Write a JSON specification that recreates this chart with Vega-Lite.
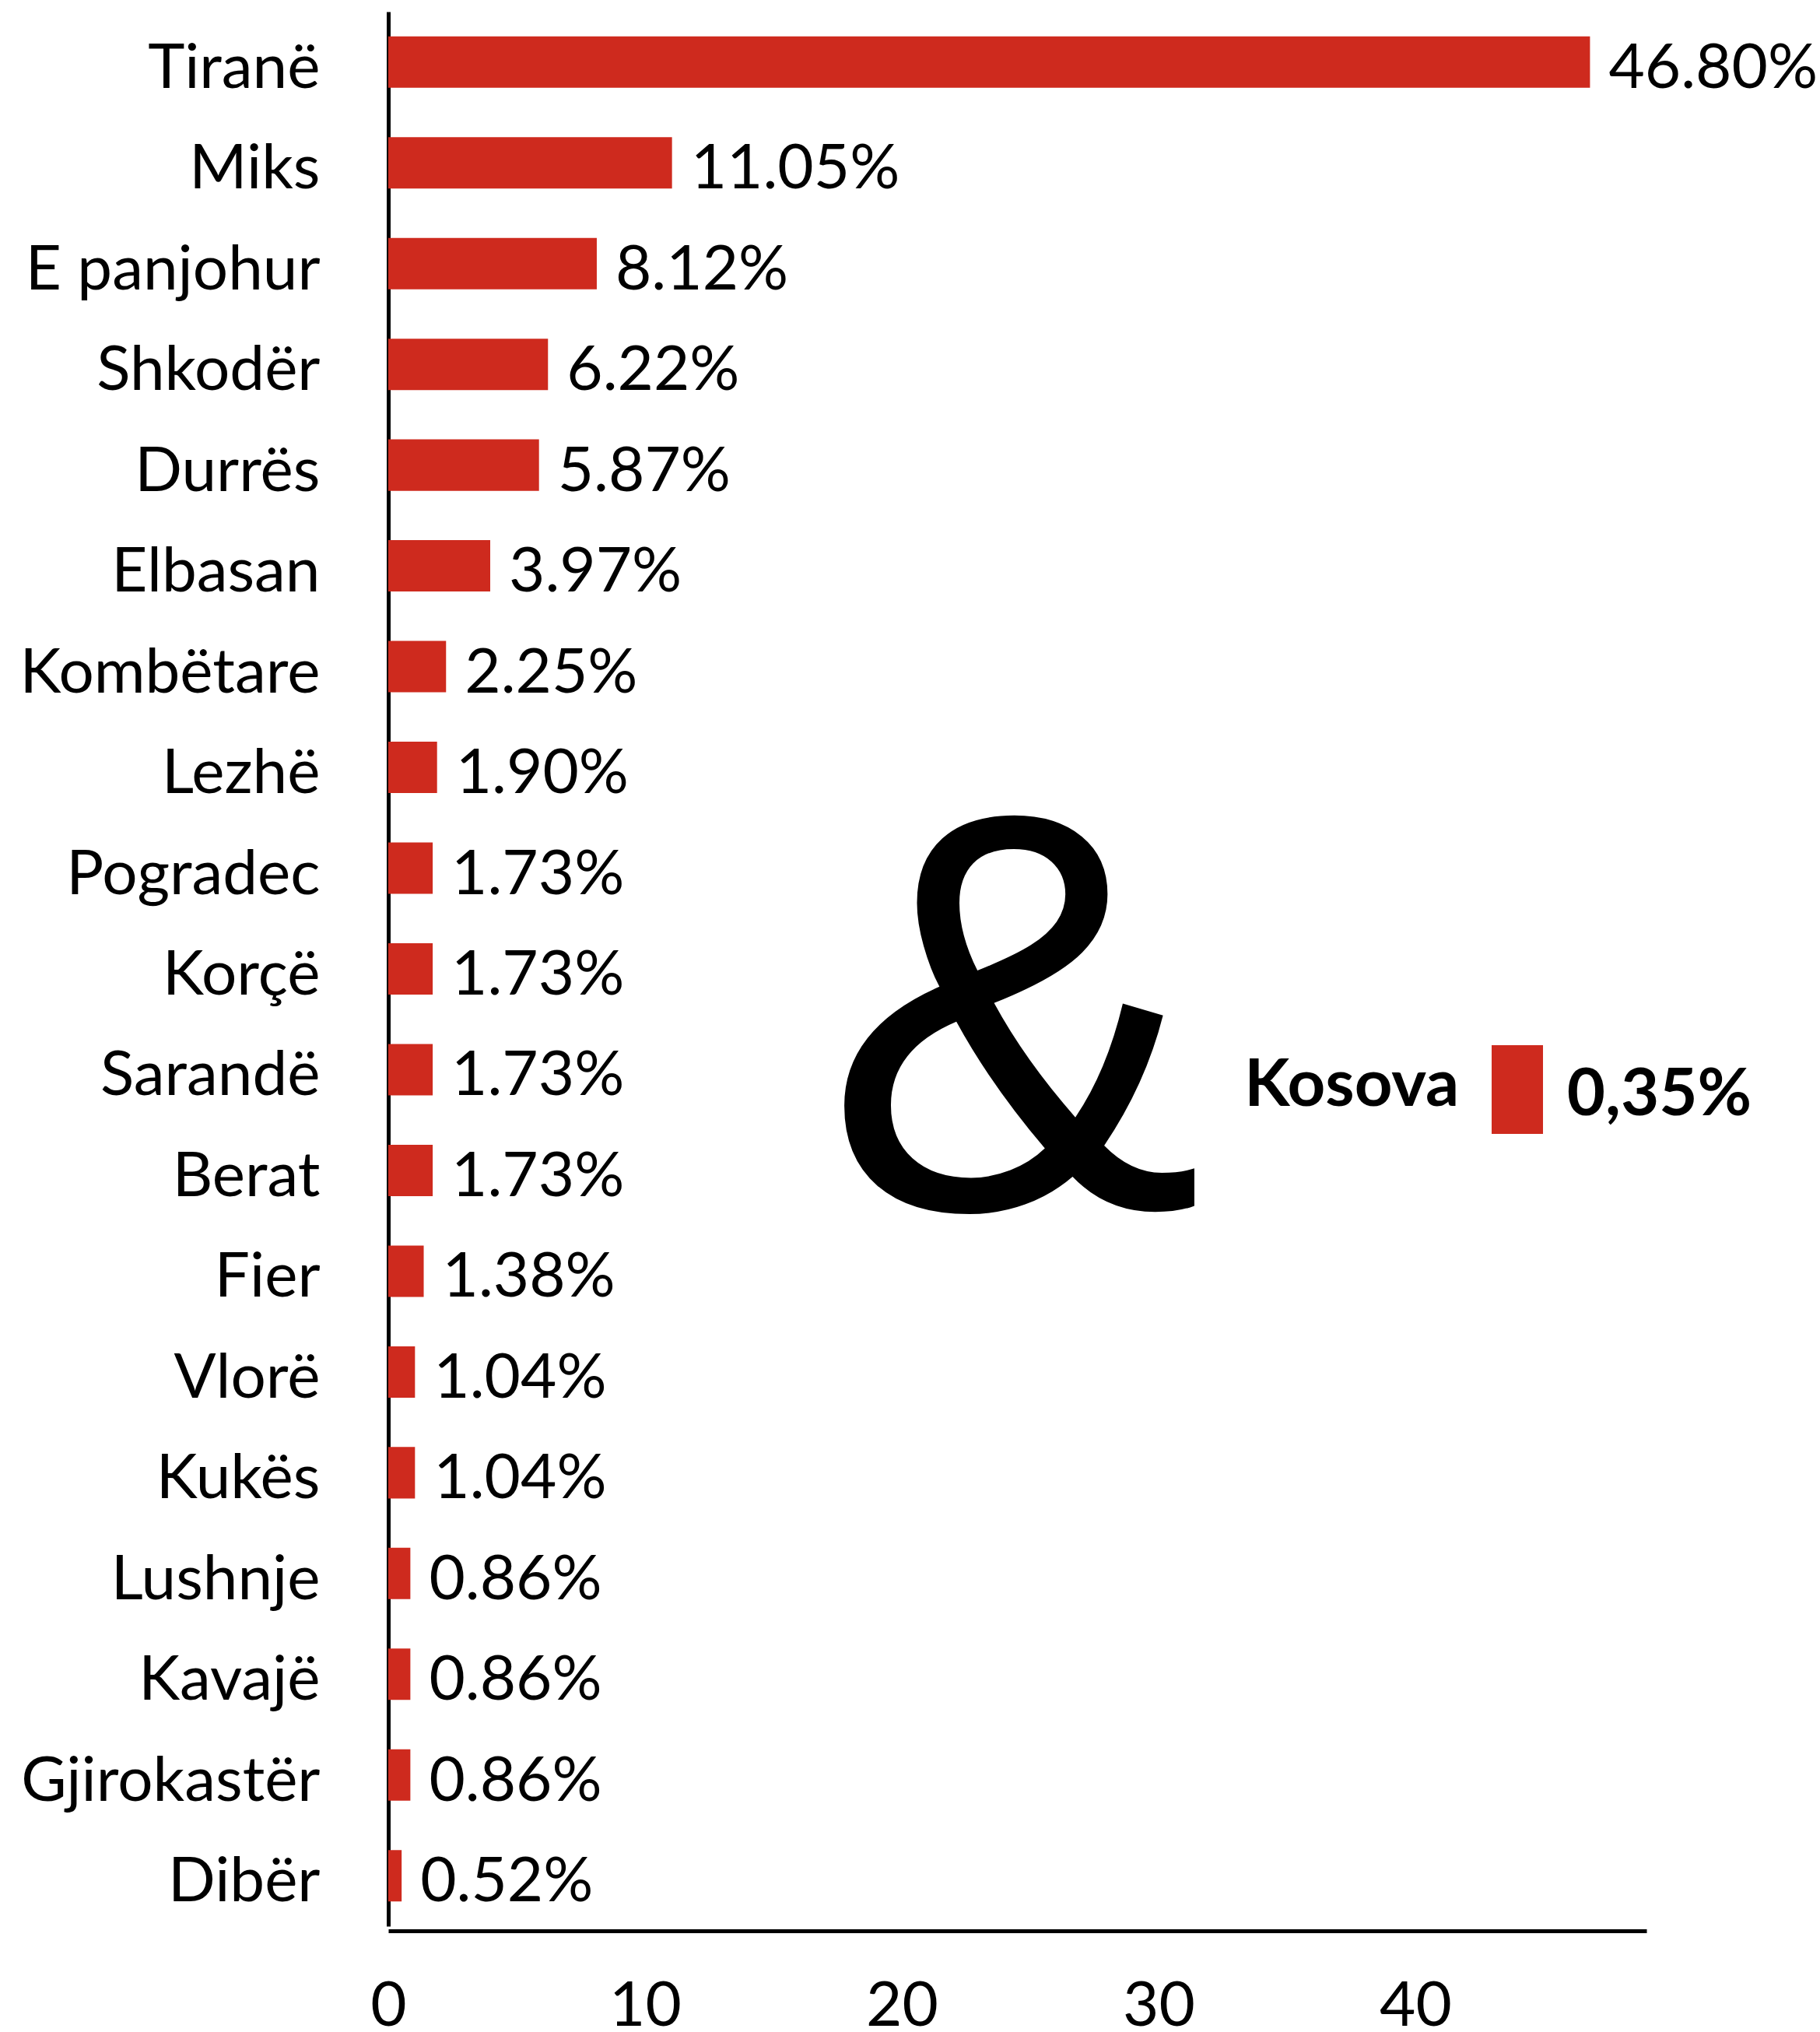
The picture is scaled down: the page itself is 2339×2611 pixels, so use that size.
{
  "$schema": "https://vega.github.io/schema/vega-lite/v6.json",
  "width": 1617,
  "height": 2460,
  "autosize": {"type": "none"},
  "padding": {"left": 499, "top": 15, "right": 223, "bottom": 136},
  "background": "white",
  "config": {
    "view": {"stroke": null},
    "font": "Lato",
    "axis": {"grid": false, "ticks": false, "tickSize": 0, "domainColor": "black", "domainWidth": 5, "labelColor": "black", "labelFont": "Lato", "labelFontSize": 80, "labelLimit": 1000, "labelOverlap": false, "title": null},
    "axisX": {"labelPadding": 58, "offset": 6, "tickCount": 5, "labelFlush": false},
    "axisY": {"labelPadding": 88, "labelBaseline": "alphabetic", "labelOffset": 33}
  },
  "datasets": {
    "regions": [
      {"region": "Tiranë", "value": 46.80, "label": "46.80%"},
      {"region": "Miks", "value": 11.05, "label": "11.05%"},
      {"region": "E panjohur", "value": 8.12, "label": "8.12%"},
      {"region": "Shkodër", "value": 6.22, "label": "6.22%"},
      {"region": "Durrës", "value": 5.87, "label": "5.87%"},
      {"region": "Elbasan", "value": 3.97, "label": "3.97%"},
      {"region": "Kombëtare", "value": 2.25, "label": "2.25%"},
      {"region": "Lezhë", "value": 1.90, "label": "1.90%"},
      {"region": "Pogradec", "value": 1.73, "label": "1.73%"},
      {"region": "Korçë", "value": 1.73, "label": "1.73%"},
      {"region": "Sarandë", "value": 1.73, "label": "1.73%"},
      {"region": "Berat", "value": 1.73, "label": "1.73%"},
      {"region": "Fier", "value": 1.38, "label": "1.38%"},
      {"region": "Vlorë", "value": 1.04, "label": "1.04%"},
      {"region": "Kukës", "value": 1.04, "label": "1.04%"},
      {"region": "Lushnje", "value": 0.86, "label": "0.86%"},
      {"region": "Kavajë", "value": 0.86, "label": "0.86%"},
      {"region": "Gjirokastër", "value": 0.86, "label": "0.86%"},
      {"region": "Dibër", "value": 0.52, "label": "0.52%"}
    ],
    "kosova": [
      {"region": "Kosova", "value": 0.35, "label": "0,35%"}
    ]
  },
  "layer": [
    {
      "data": {"name": "regions"},
      "mark": {"type": "bar", "color": "#CE2A1E"},
      "encoding": {
        "y": {"field": "region", "type": "nominal", "title": null, "sort": null,
              "scale": {"domain": ["Tiranë","Miks","E panjohur","Shkodër","Durrës","Elbasan","Kombëtare","Lezhë","Pogradec","Korçë","Sarandë","Berat","Fier","Vlorë","Kukës","Lushnje","Kavajë","Gjirokastër","Dibër"], "paddingInner": 0.49, "paddingOuter": 0.245}},
        "x": {"field": "value", "type": "quantitative", "title": null,
              "scale": {"domain": [0, 49], "nice": false, "zero": true},
              "axis": {"values": [0, 10, 20, 30, 40]}}
      }
    },
    {
      "data": {"name": "regions"},
      "mark": {"type": "text", "align": "left", "baseline": "alphabetic", "dx": 24, "dy": 33, "fontSize": 80, "font": "Lato", "color": "black"},
      "encoding": {
        "y": {"field": "region", "type": "nominal", "title": null, "sort": null,
              "scale": {"domain": ["Tiranë","Miks","E panjohur","Shkodër","Durrës","Elbasan","Kombëtare","Lezhë","Pogradec","Korçë","Sarandë","Berat","Fier","Vlorë","Kukës","Lushnje","Kavajë","Gjirokastër","Dibër"]}},
        "x": {"field": "value", "type": "quantitative", "title": null},
        "text": {"field": "label"}
      }
    },
    {
      "data": {"name": "kosova"},
      "mark": {"type": "text", "text": "&", "align": "center", "baseline": "alphabetic", "dy": 49, "fontSize": 730, "font": "Liberation Sans", "color": "black"},
      "encoding": {
        "x": {"datum": 24.36, "type": "quantitative", "title": null},
        "y": {"datum": "Berat", "type": "nominal", "title": null}
      }
    },
    {
      "data": {"name": "kosova"},
      "mark": {"type": "text", "align": "right", "baseline": "alphabetic", "dy": 46.6, "fontSize": 85, "fontWeight": "bold", "font": "Lato", "color": "black"},
      "encoding": {
        "x": {"datum": 41.7, "type": "quantitative", "title": null},
        "y": {"datum": "Sarandë", "type": "nominal", "title": null},
        "text": {"field": "region"}
      }
    },
    {
      "data": {"name": "kosova"},
      "mark": {"type": "bar", "color": "#CE2A1E", "height": 114, "yOffset": 25.6},
      "encoding": {
        "x": {"datum": 42.97, "type": "quantitative", "title": null},
        "x2": {"datum": 44.97},
        "y": {"datum": "Sarandë", "type": "nominal", "title": null}
      }
    },
    {
      "data": {"name": "kosova"},
      "mark": {"type": "text", "align": "left", "baseline": "alphabetic", "dy": 58.6, "fontSize": 85, "fontWeight": "bold", "font": "Lato", "color": "black"},
      "encoding": {
        "x": {"datum": 45.9, "type": "quantitative", "title": null},
        "y": {"datum": "Sarandë", "type": "nominal", "title": null},
        "text": {"field": "label"}
      }
    }
  ]
}
